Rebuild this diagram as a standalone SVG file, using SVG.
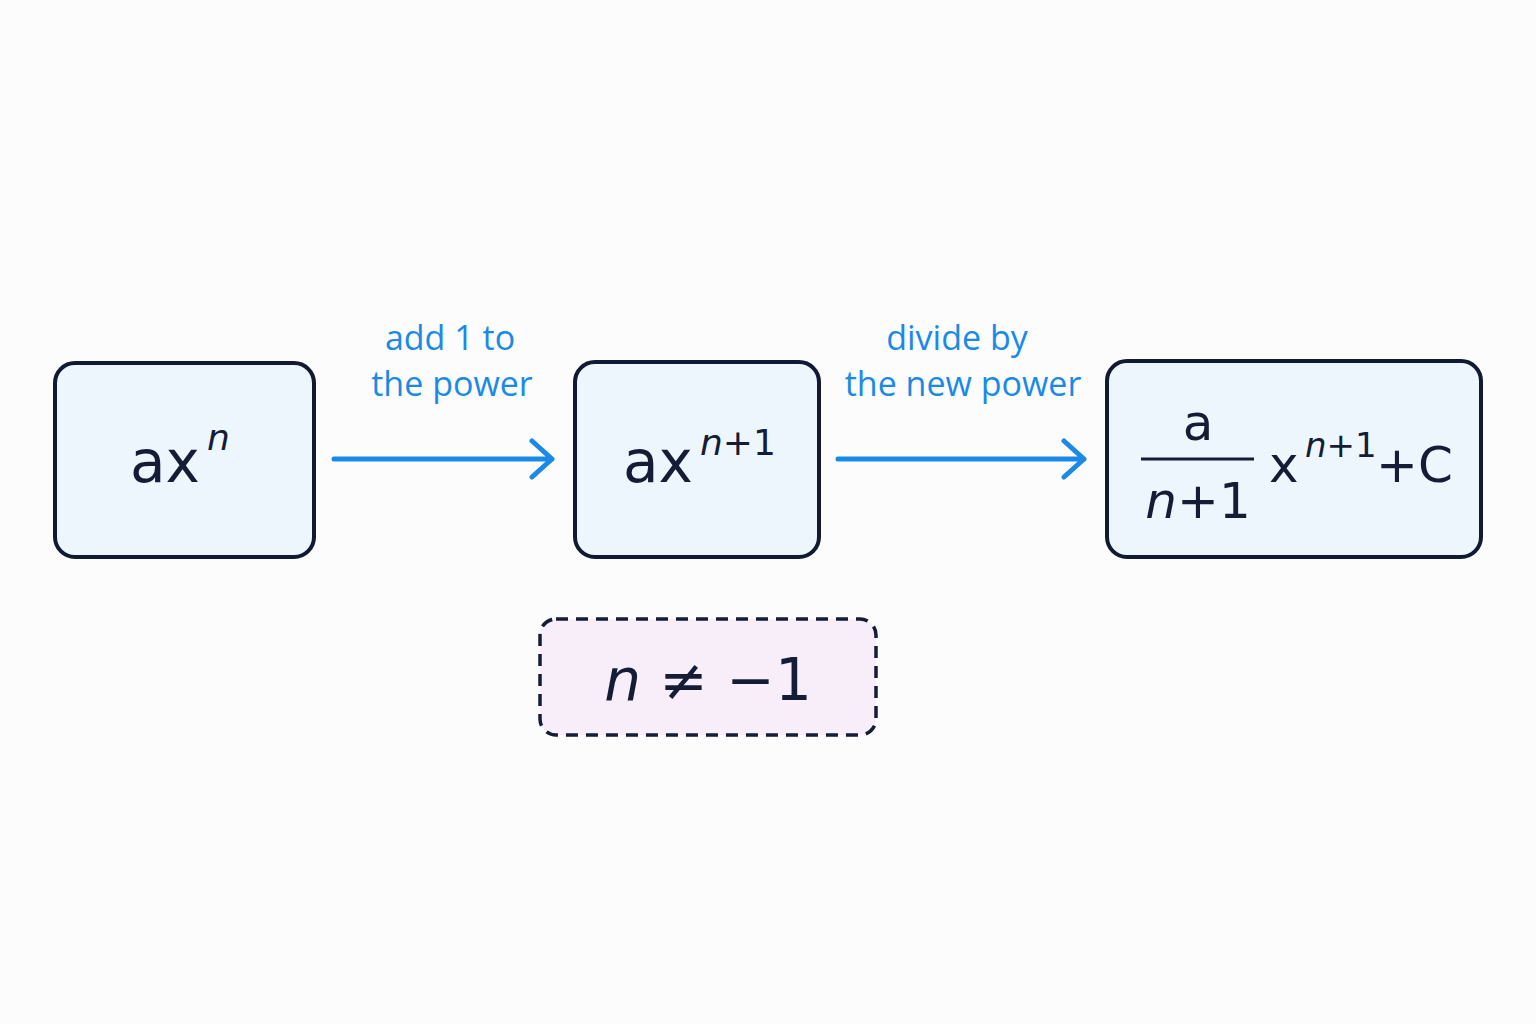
<svg xmlns="http://www.w3.org/2000/svg" width="1536" height="1024" viewBox="0 0 1536 1024">
<defs>
<style>
.box{fill:#eef6fd;stroke:#111a33;stroke-width:4}
.m{font-family:"DejaVu Sans","Liberation Sans",sans-serif;fill:#141c36}
.i{font-style:italic}
.lab{font-family:"Open Sans","Liberation Sans",sans-serif;font-size:34px;fill:#1a8ae6;text-anchor:middle}
.conn{stroke:#1a8ae6;stroke-width:5;fill:none;stroke-linecap:round;stroke-linejoin:round}
</style>
</defs>
<rect width="1536" height="1024" fill="#fcfcfc"/>
<g id="n1"><rect class="box" x="55" y="363" width="259" height="194" rx="20"/>
<text class="m" x="130" y="482" font-size="58">ax</text><text class="m i" x="207" y="450" font-size="36">n</text></g>
<g id="n2"><rect class="box" x="575" y="362" width="244" height="195" rx="20"/>
<text class="m" x="623" y="482" font-size="58">ax</text><text class="m" x="700" y="455" font-size="36"><tspan class="i">n</tspan>+1</text></g>
<g id="n3"><rect class="box" x="1107" y="361" width="374" height="196" rx="20"/>
<text class="m" x="1198" y="440" font-size="50" text-anchor="middle">a</text>
<line x1="1141" y1="459" x2="1254" y2="459" stroke="#141c36" stroke-width="3"/>
<text class="m" x="1198" y="518" font-size="50" text-anchor="middle"><tspan class="i">n</tspan>+1</text>
<text class="m" x="1269" y="482" font-size="50">x</text>
<text class="m" x="1305" y="457" font-size="34"><tspan class="i">n</tspan>+1</text>
<text class="m" x="1376" y="482" font-size="50">+C</text></g>
<g id="cond"><rect x="540" y="619" width="336" height="116" rx="16" fill="#f8eefa" stroke="#141c36" stroke-width="3.5" stroke-dasharray="12 8"/>
<text class="m" x="708" y="700" font-size="58" text-anchor="middle"><tspan class="i">n</tspan> ≠ −1</text></g>
<g id="connectors">
<path class="conn" d="M334 459H552M532 441L552 459L532 477"/>
<path class="conn" d="M838 459H1084M1064 441L1084 459L1064 477"/>
<text class="lab" x="450" y="350">add 1 to</text><text class="lab" x="452" y="396">the power</text>
<text class="lab" x="957" y="350">divide by</text><text class="lab" x="963" y="396">the new power</text>
</g>
</svg>
